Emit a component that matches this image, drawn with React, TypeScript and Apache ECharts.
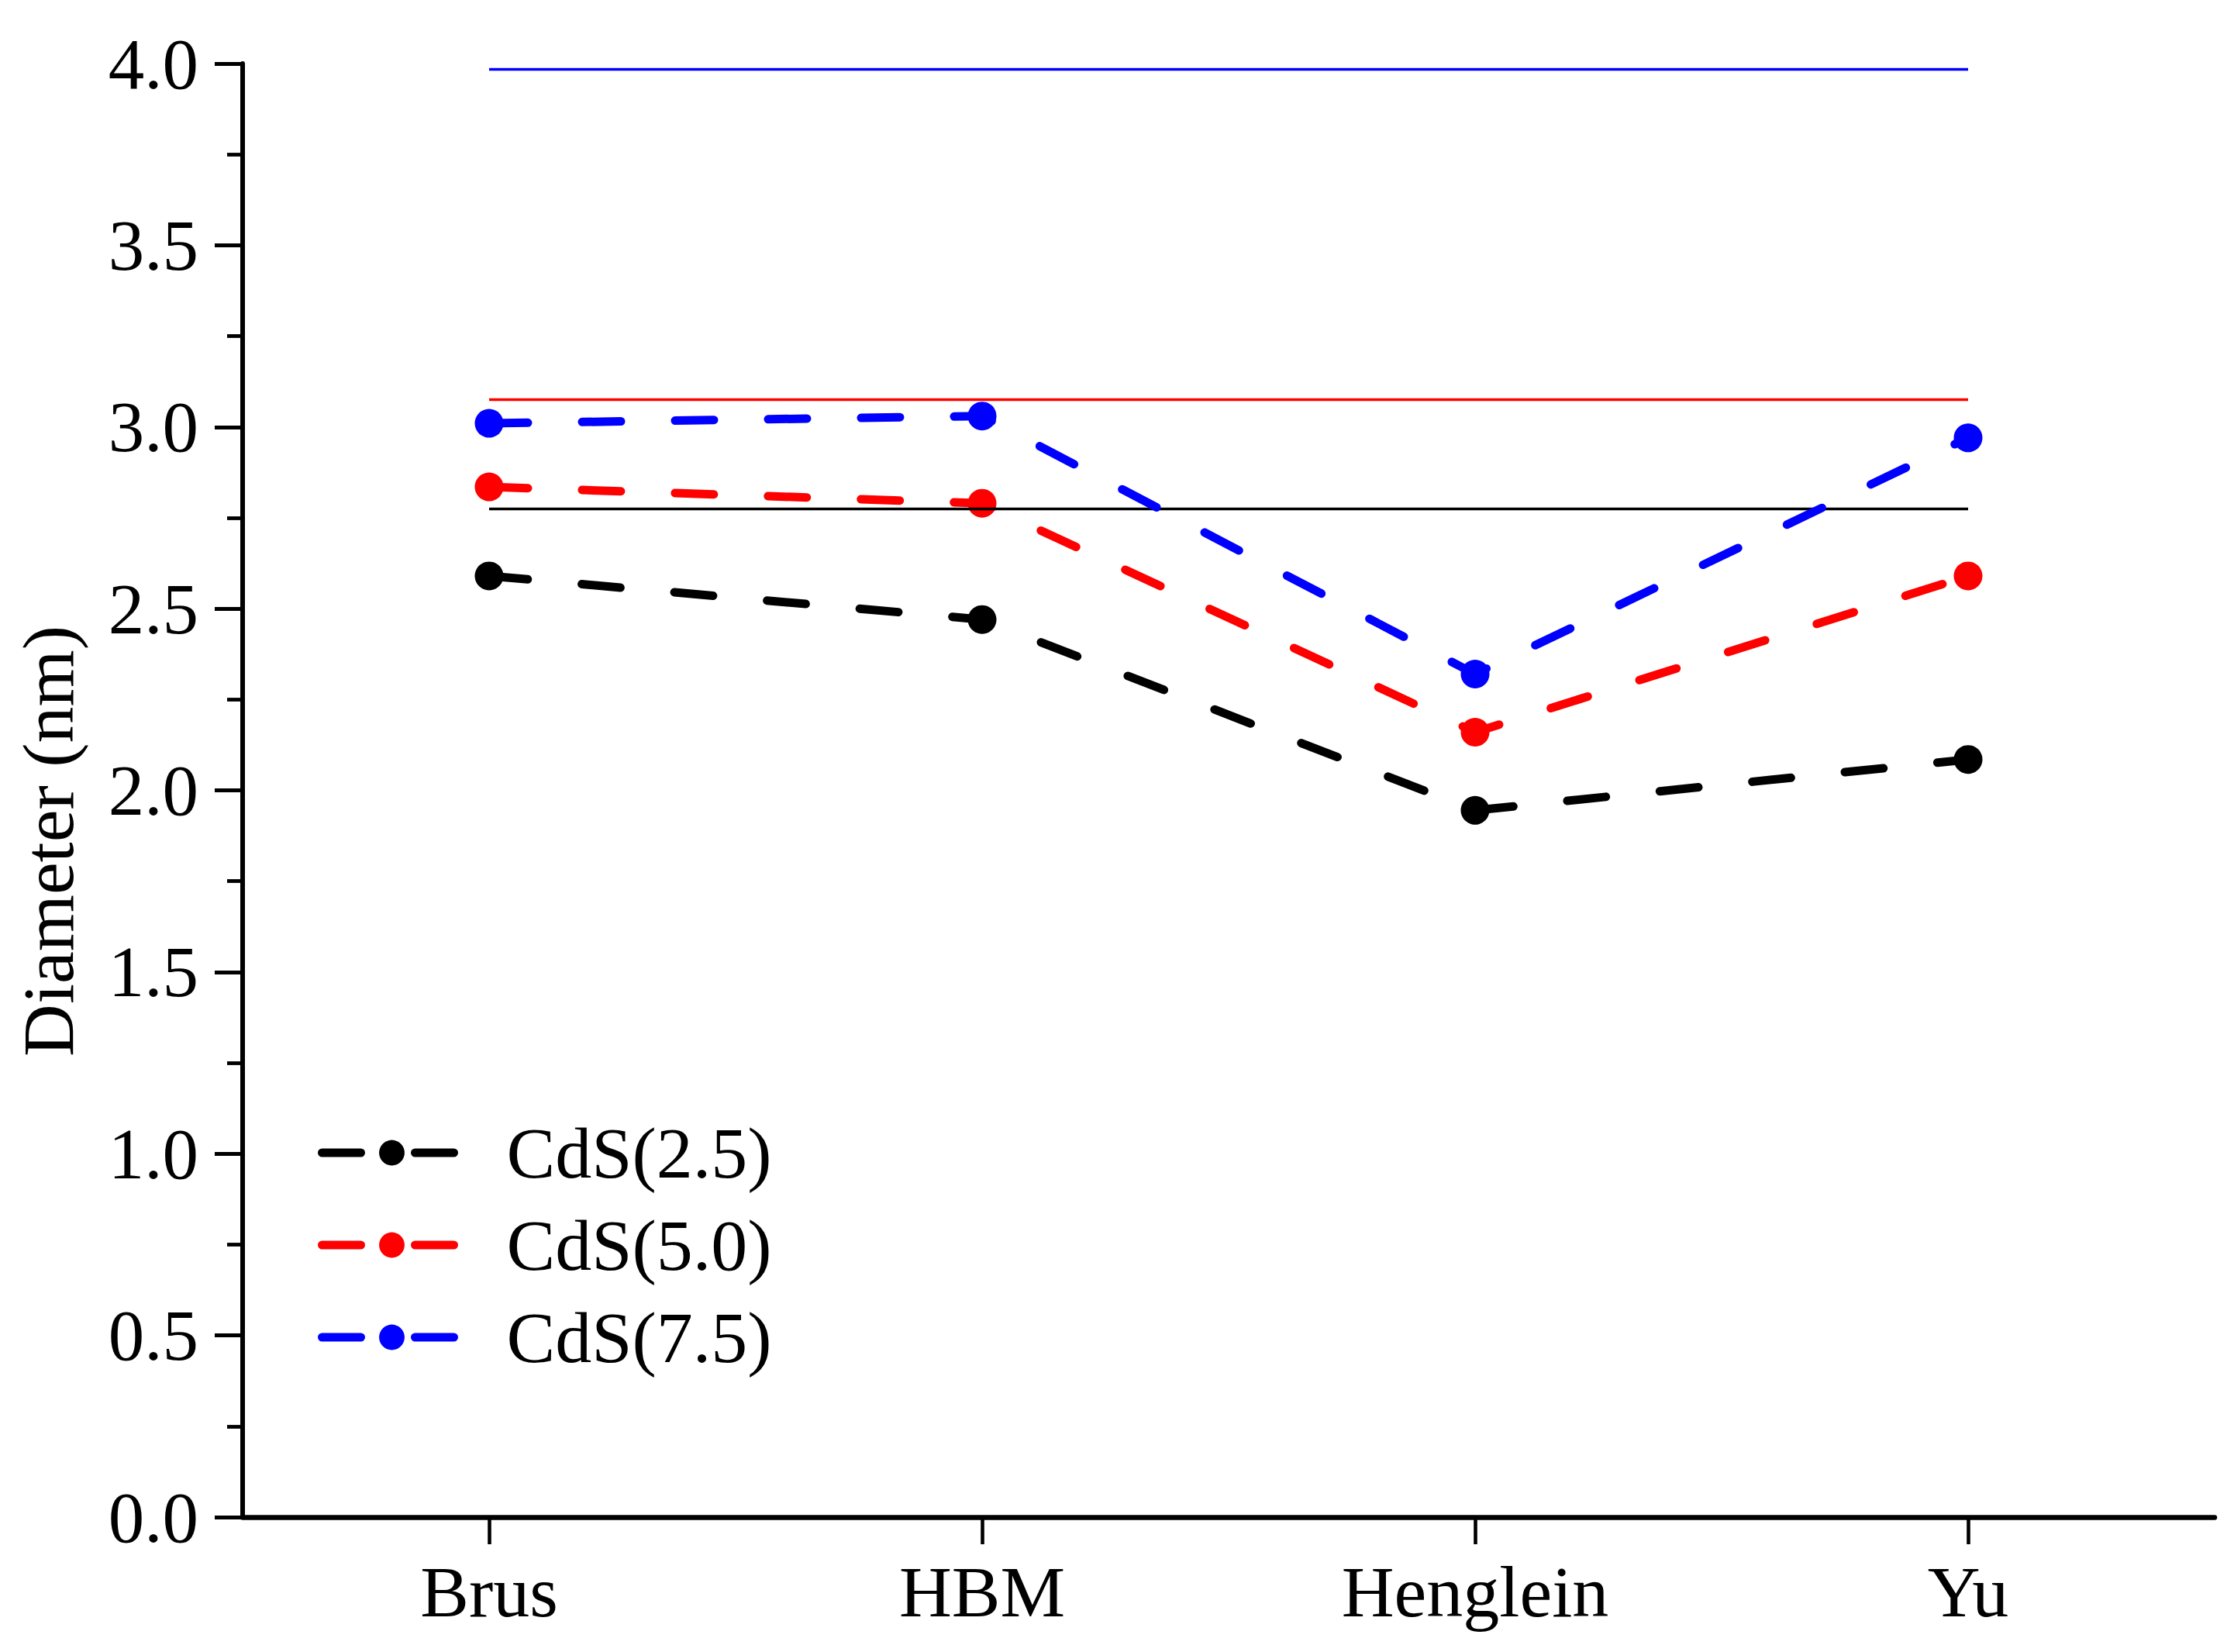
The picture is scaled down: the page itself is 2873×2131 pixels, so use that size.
import React, { useEffect, useRef } from "react";
import * as echarts from "echarts";

const categories = ["Brus", "HBM", "Henglein", "Yu"];
const seriesNames = ["CdS(2.5)", "CdS(5.0)", "CdS(7.5)"];
const cds25 = [2.59, 2.47, 1.945, 2.085];
const cds50 = [2.835, 2.79, 2.16, 2.59];
const cds75 = [3.01, 3.03, 2.32, 2.97];
const refLevels = [2.774, 3.076, 3.985];
const colors = ["#000000", "#ff0000", "#0000ff"];
const yTitle = "Diameter (nm)";

const FONT = '"Liberation Serif", "Times New Roman", serif';

export default function App() {
  const ref = useRef<HTMLDivElement>(null);

  useEffect(() => {
    if (!ref.current) return;
    const chart = echarts.init(ref.current, null, { renderer: "svg" });
    const allData = [cds25, cds50, cds75];
    const series = allData.map((d, i) => ({
      name: seriesNames[i],
      type: "line",
      data: d,
      symbol: "circle",
      symbolSize: 37,
      showSymbol: true,
      z: 3 + i,
      itemStyle: { color: colors[i] },
      lineStyle: { color: colors[i], width: 11, type: [50, 70], cap: "round" },
      markLine: {
        silent: true,
        symbol: "none",
        label: { show: false },
        lineStyle: { type: "solid", width: 3.3, color: colors[i] },
        data: [
          [
            { coord: [categories[0], refLevels[i]] },
            { coord: [categories[categories.length - 1], refLevels[i]] },
          ],
        ],
      },
    }));

    chart.setOption({
      animation: false,
      backgroundColor: "#ffffff",
      grid: { left: 313, right: 16, top: 82, bottom: 174, containLabel: false },
      xAxis: {
        type: "category",
        data: categories,
        boundaryGap: true,
        axisLine: { show: true, lineStyle: { color: "#000", width: 6.5 } },
        axisTick: { show: true, alignWithLabel: true, length: 35, lineStyle: { color: "#000", width: 4.6 } },
        axisLabel: { color: "#000", fontFamily: FONT, fontSize: 94, margin: 49 },
        splitLine: { show: false },
      },
      yAxis: {
        type: "value",
        min: 0,
        max: 4,
        interval: 0.5,
        axisLine: { show: true, lineStyle: { color: "#000", width: 6 } },
        axisTick: { show: true, length: 36, lineStyle: { color: "#000", width: 4.8 } },
        minorTick: { show: true, splitNumber: 2, length: 20, lineStyle: { color: "#000", width: 4.8 } },
        axisLabel: {
          color: "#000",
          fontFamily: FONT,
          fontSize: 93,
          margin: 57,
          formatter: (v: number) => v.toFixed(1),
        },
        splitLine: { show: false },
      },
      legend: {
        orient: "vertical",
        left: 410,
        top: 1440,
        padding: 0,
        itemWidth: 180,
        itemHeight: 41,
        itemGap: 25,
        data: seriesNames,
        lineStyle: { width: 11, cap: "round" },
        textStyle: {
          color: "#000",
          fontFamily: FONT,
          fontSize: 94,
          lineHeight: 94,
          padding: [0, 0, 0, 53],
        },
      },
      graphic: [
        {
          type: "text",
          x: 62,
          y: 1085,
          rotation: Math.PI / 2,
          style: {
            text: yTitle,
            fontFamily: FONT,
            fontSize: 94,
            fill: "#000",
            align: "center",
            verticalAlign: "middle",
          },
        },
      ],
      series,
    });

    return () => chart.dispose();
  }, []);

  return (
    <div
      ref={ref}
      style={{ position: "absolute", left: 0, top: 0, width: 2873, height: 2131, background: "#fff" }}
    />
  );
}
